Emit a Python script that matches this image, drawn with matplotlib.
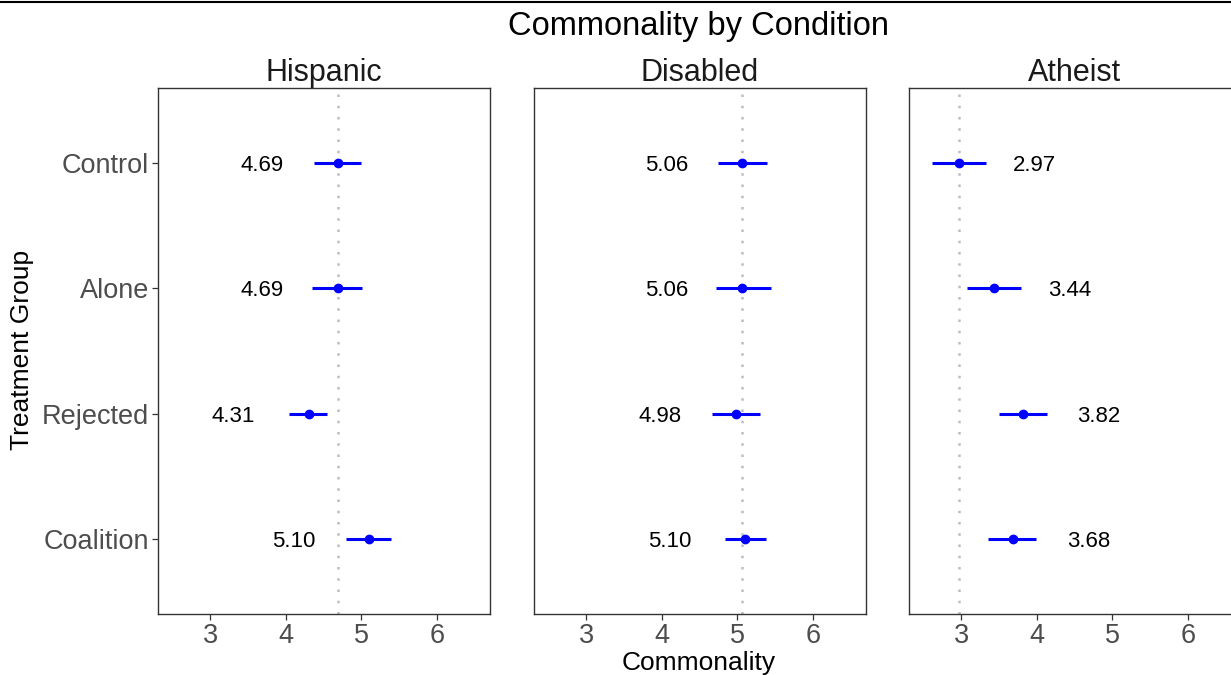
import numpy as np
import matplotlib.pyplot as plt
from matplotlib.lines import Line2D

plt.rcParams['font.family'] = ['Liberation Sans', 'DejaVu Sans']

groups = ["Coalition", "Rejected", "Alone", "Control"]
panels = ["Hispanic", "Disabled", "Atheist"]

# means, lower and upper CI, ordered like groups (bottom to top)
means = {
    "Hispanic": [5.10, 4.31, 4.69, 4.69],
    "Disabled": [5.10, 4.98, 5.06, 5.06],
    "Atheist": [3.68, 3.82, 3.44, 2.97],
}
lower = {
    "Hispanic": [4.79, 4.04, 4.35, 4.37],
    "Disabled": [4.83, 4.66, 4.71, 4.74],
    "Atheist": [3.35, 3.50, 3.08, 2.62],
}
upper = {
    "Hispanic": [5.39, 4.55, 5.01, 5.00],
    "Disabled": [5.38, 5.30, 5.44, 5.39],
    "Atheist": [3.99, 4.14, 3.79, 3.33],
}
xticks = [3, 4, 5, 6]

fig = plt.figure(figsize=(12.31, 6.75), dpi=100)

lefts = [158, 534, 909]
pw, pb, ph = 332, 614, 526
W, H = 1231, 675
text_off = {"Hispanic": -1.0, "Disabled": -1.0, "Atheist": 1.0}

yy = np.arange(1, len(groups) + 1)
for i, name in enumerate(panels):
    ax = fig.add_axes([lefts[i] / W, (H - pb) / H, pw / W, ph / H])
    m = np.array(means[name])
    lo = np.array(lower[name])
    hi = np.array(upper[name])
    ax.axvline(m[-1], color="#bdbdbd", ls=(0, (1, 3.5)), lw=1.8, zorder=1)
    ax.hlines(yy, lo, hi, color="blue", lw=2.2, zorder=2)
    ax.plot(m, yy, "o", color="blue", ms=6, zorder=3)
    for y, v in zip(yy, m):
        ax.text(v + text_off[name], y - 0.02, f"{v:.2f}", ha="center",
                va="center", fontsize=16, color="black")
    ax.set_xlim(2.31, 6.70)
    ax.set_ylim(0.4, 4.6)
    ax.set_xticks(xticks)
    ax.set_xticklabels([str(t) for t in xticks])
    ax.set_yticks(yy)
    if i == 0:
        ax.set_yticklabels(groups)
    else:
        ax.tick_params(axis="y", left=False, labelleft=False)
    ax.tick_params(colors="#333333", labelcolor="#4d4d4d", labelsize=19.5,
                   length=4, width=0.9, pad=2.5)
    for s in ax.spines.values():
        s.set_color("#333333")
        s.set_linewidth(1.0)
    ax.set_title(name, fontsize=22, color="#1a1a1a", pad=4)

fig.text(699 / W, 1 - 26 / H, "Commonality by Condition", ha="center",
         va="center", fontsize=23.5, color="black")
fig.text(699 / W, 1 - 663 / H, "Commonality", ha="center", va="center",
         fontsize=19, color="black")
fig.text(22 / W, 1 - 350 / H, "Treatment Group", ha="center", va="center",
         rotation=90, fontsize=19, color="black")
fig.add_artist(Line2D([0, 1], [1 - 1.5 / H, 1 - 1.5 / H], color="black",
                      lw=1.5, transform=fig.transFigure))

fig.savefig("out.png", dpi=100)
